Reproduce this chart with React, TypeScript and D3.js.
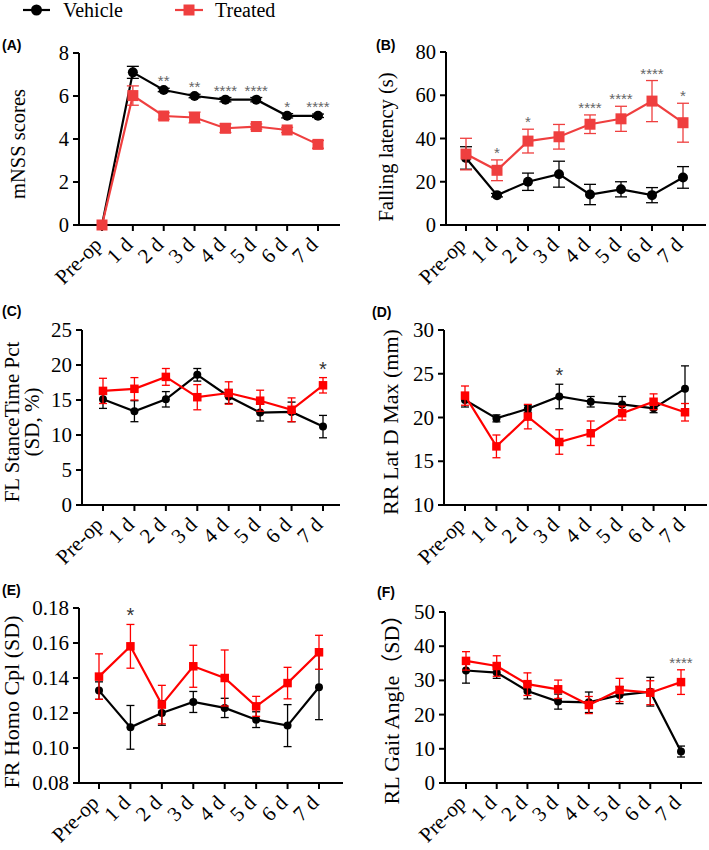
import React from 'react';
import * as d3 from 'd3';

const categories = ['Pre-op', '1 d', '2 d', '3 d', '4 d', '5 d', '6 d', '7 d'];

// (A) mNSS scores
const mnssVehicle = [0, 7.1, 6.28, 6.0, 5.83, 5.83, 5.08, 5.08];
const mnssVehicleErr = [0, 0.28, 0.08, 0.08, 0.1, 0.1, 0.1, 0.08];
const mnssTreated = [0, 6.02, 5.07, 5.0, 4.5, 4.58, 4.42, 3.75];
const mnssTreatedErr = [0, 0.45, 0.15, 0.25, 0.2, 0.12, 0.12, 0.18];
const mnssStars = ['', '', '**', '**', '****', '****', '*', '****'];

// (B) Falling latency
const latencyVehicle = [31, 13.8, 20, 23.5, 14.1, 16.5, 13.8, 22];
const latencyVehicleErr = [5.2, 0.8, 4, 6, 4.7, 3.5, 3.5, 5];
const latencyTreated = [32.8, 25.3, 38.8, 40.8, 46.6, 49.1, 57.3, 47.3];
const latencyTreatedErr = [7.3, 4.8, 5.5, 5.7, 4.3, 5.8, 9.5, 9];
const latencyStars = ['', '*', '*', '', '****', '****', '****', '*'];

// (C) FL StanceTime Pct
const stanceVehicle = [15.1, 13.4, 15.1, 18.6, 15.5, 13.2, 13.3, 11.2];
const stanceVehicleErr = [1.3, 1.5, 1.1, 0.9, 1.0, 1.2, 1.4, 1.6];
const stanceTreated = [16.3, 16.6, 18.3, 15.4, 16.0, 14.9, 13.6, 17.1];
const stanceTreatedErr = [1.8, 1.6, 1.2, 1.8, 1.6, 1.5, 1.7, 1.1];
const stanceStars = ['', '', '', '', '', '', '', '*'];

// (D) RR Lat D Max
const latDVehicle = [22.0, 19.9, 21.0, 22.4, 21.8, 21.5, 21.05, 23.3];
const latDVehicleErr = [0.8, 0.4, 0.4, 1.4, 0.6, 0.9, 0.5, 2.6];
const latDTreated = [22.5, 16.7, 20.1, 17.2, 18.2, 20.5, 21.8, 20.6];
const latDTreatedErr = [1.1, 1.3, 1.4, 1.4, 1.4, 0.8, 0.9, 1.0];
const latDStars = ['', '', '', '*', '', '', '', ''];

// (E) FR Homo Cpl
const homoVehicle = [0.1328, 0.1118, 0.12, 0.1263, 0.1229, 0.1162, 0.1128, 0.1347];
const homoVehicleErr = [0.005, 0.0125, 0.007, 0.006, 0.0055, 0.0045, 0.012, 0.0185];
const homoTreated = [0.1408, 0.1581, 0.1248, 0.1467, 0.14, 0.1238, 0.1371, 0.1547];
const homoTreatedErr = [0.013, 0.0125, 0.011, 0.012, 0.016, 0.0057, 0.009, 0.0097];
const homoStars = ['', '*', '', '', '', '', '', ''];

// (F) RL Gait Angle
const gaitVehicle = [32.9, 32.3, 26.9, 23.8, 23.6, 25.7, 26.7, 9.2];
const gaitVehicleErr = [3.7, 1.7, 2.3, 2.2, 3.0, 2.5, 4.2, 1.6];
const gaitTreated = [35.7, 34.2, 28.9, 27.4, 22.8, 27.2, 26.4, 29.5];
const gaitTreatedErr = [2.7, 3.0, 3.3, 2.7, 2.5, 3.4, 3.5, 3.6];
const gaitStars = ['', '', '', '', '', '', '', '****'];

const SERIF = '"Liberation Serif", "Times New Roman", serif';
const SANS = '"Liberation Sans", Arial, sans-serif';

interface PanelProps {
  tag: string;
  tagPos: [number, number];
  axisX: number;
  top: number;
  bottom: number;
  firstX: number;
  lastX: number;
  axisEnd: number;
  domain: [number, number];
  ticks: number[];
  tickFormat: (v: number) => string;
  label: string[];
  labelX: number[];
  labelY: number;
  labelSize: number;
  tickSize: number;
  vehicle: number[];
  vehicleErr: number[];
  treated: number[];
  treatedErr: number[];
  stars: string[];
  starSize: number;
  starColor: string;
  red: string;
  big: boolean;
}

const Panel: React.FC<PanelProps> = (p) => {
  const x = d3.scalePoint<string>().domain(categories).range([p.firstX, p.lastX]);
  const y = d3.scaleLinear().domain(p.domain).range([p.bottom, p.top]);
  const line = d3.line<number>().x((_, i) => x(categories[i])!).y(d => y(d));
  const r = p.big ? 5 : 4;
  const sq = p.big ? 11 : 8.5;
  const cap = p.big ? 6 : 4;

  const errBars = (vals: number[], errs: number[], color: string) =>
    vals.map((v, i) => {
      if (!errs[i]) return null;
      const cx = x(categories[i])!;
      const y1 = y(v + errs[i]);
      const y2 = y(v - errs[i]);
      return (
        <g key={i} stroke={color} strokeWidth={1.3}>
          <line x1={cx} x2={cx} y1={y1} y2={y2} />
          <line x1={cx - cap} x2={cx + cap} y1={y1} y2={y1} />
          <line x1={cx - cap} x2={cx + cap} y1={y2} y2={y2} />
        </g>
      );
    });

  return (
    <g>
      <text x={p.tagPos[0]} y={p.tagPos[1]} fontFamily={SANS} fontWeight="bold" fontSize={14} fill="#000">{p.tag}</text>

      {/* y axis */}
      <line x1={p.axisX} x2={p.axisX} y1={p.top} y2={p.bottom} stroke="#000" strokeWidth={2} />
      {p.ticks.map(t => (
        <g key={t}>
          <line x1={p.axisX - 6} x2={p.axisX} y1={y(t)} y2={y(t)} stroke="#000" strokeWidth={2} />
          <text x={p.axisX - 10} y={y(t)} textAnchor="end" dominantBaseline="central" fontFamily={SERIF} fontSize={p.tickSize} fill="#000">
            {p.tickFormat(t)}
          </text>
        </g>
      ))}

      {/* x axis */}
      <line x1={p.axisX - 1} x2={p.axisEnd} y1={p.bottom} y2={p.bottom} stroke="#000" strokeWidth={2} />
      {categories.map(c => (
        <g key={c}>
          <line x1={x(c)!} x2={x(c)!} y1={p.bottom} y2={p.bottom + 6} stroke="#000" strokeWidth={2} />
          <text transform={`translate(${x(c)! + 1},${p.bottom + 21}) rotate(-45)`} textAnchor="end" fontFamily={SERIF} fontSize={21} fill="#000">
            {c}
          </text>
        </g>
      ))}

      {/* y label */}
      {p.label.map((l, i) => (
        <text key={i} transform={`translate(${p.labelX[i]},${p.labelY}) rotate(-90)`} textAnchor="middle" fontFamily={`${SERIF}, "Noto Sans CJK SC"`} fontSize={p.labelSize} fill="#000">
          {l}
        </text>
      ))}

      {/* vehicle */}
      {errBars(p.vehicle, p.vehicleErr, '#000')}
      <path d={line(p.vehicle) || ''} fill="none" stroke="#000" strokeWidth={2.2} />
      {p.vehicle.map((v, i) => (
        <circle key={i} cx={x(categories[i])!} cy={y(v)} r={r} fill="#000" />
      ))}

      {/* treated */}
      {errBars(p.treated, p.treatedErr, p.red)}
      <path d={line(p.treated) || ''} fill="none" stroke={p.red} strokeWidth={2.2} />
      {p.treated.map((v, i) => (
        <rect key={i} x={x(categories[i])! - sq / 2} y={y(v) - sq / 2} width={sq} height={sq} fill={p.red} />
      ))}

      {/* significance */}
      {p.stars.map((s, i) => {
        if (!s) return null;
        const top = Math.max(p.vehicle[i] + p.vehicleErr[i], p.treated[i] + p.treatedErr[i]);
        return (
          <text key={i} x={x(categories[i])!} y={y(top) - 2} textAnchor="middle" fontFamily={SANS} fontSize={p.starSize} fill={p.starColor}>
            {s}
          </text>
        );
      })}
    </g>
  );
};

const fmtInt = (v: number) => d3.format('d')(v);
const fmt2 = (v: number) => d3.format('.2f')(v);

export default function App() {
  const redA = '#ef3f3f';
  const redC = '#ff0000';
  return (
    <svg width={709} height={850} style={{ position: 'absolute', left: 0, top: 0, background: '#fff' }}>
      <rect width={709} height={850} fill="#fff" />

      {/* legend */}
      <g>
        <line x1={23} x2={50} y1={10} y2={10} stroke="#000" strokeWidth={2.2} />
        <circle cx={36.5} cy={10} r={5.5} fill="#000" />
        <text x={63} y={17} fontFamily={SERIF} fontSize={20} fill="#000">Vehicle</text>
        <line x1={175} x2={203} y1={10} y2={10} stroke={redA} strokeWidth={2.2} />
        <rect x={183.5} y={4.5} width={11} height={11} fill={redA} />
        <text x={215} y={17} fontFamily={SERIF} fontSize={20} fill="#000">Treated</text>
      </g>

      <Panel tag="(A)" tagPos={[2, 50]} axisX={79} top={53} bottom={225} firstX={102} lastX={318} axisEnd={340}
        domain={[0, 8]} ticks={[0, 2, 4, 6, 8]} tickFormat={fmtInt}
        label={['mNSS scores']} labelX={[25]} labelY={144} labelSize={20.5} tickSize={20.5}
        vehicle={mnssVehicle} vehicleErr={mnssVehicleErr} treated={mnssTreated} treatedErr={mnssTreatedErr}
        stars={mnssStars} starSize={15} starColor="#666" red={redA} big />

      <Panel tag="(B)" tagPos={[376, 50]} axisX={446} top={52} bottom={225} firstX={466} lastX={683} axisEnd={706}
        domain={[0, 80]} ticks={[0, 20, 40, 60, 80]} tickFormat={fmtInt}
        label={['Falling latency (s)']} labelX={[393]} labelY={147} labelSize={20.5} tickSize={20.5}
        vehicle={latencyVehicle} vehicleErr={latencyVehicleErr} treated={latencyTreated} treatedErr={latencyTreatedErr}
        stars={latencyStars} starSize={15} starColor="#666" red={redA} big />

      <Panel tag="(C)" tagPos={[2, 316]} axisX={82} top={330} bottom={505} firstX={103} lastX={323} axisEnd={340}
        domain={[0, 25]} ticks={[0, 5, 10, 15, 20, 25]} tickFormat={fmtInt}
        label={['FL StanceTime Pct', '(SD, %)']} labelX={[19, 39]} labelY={422} labelSize={21} tickSize={21}
        vehicle={stanceVehicle} vehicleErr={stanceVehicleErr} treated={stanceTreated} treatedErr={stanceTreatedErr}
        stars={stanceStars} starSize={20} starColor="#333" red={redC} big={false} />

      <Panel tag="(D)" tagPos={[372, 317]} axisX={444} top={330} bottom={505} firstX={465} lastX={685} axisEnd={707}
        domain={[10, 30]} ticks={[10, 15, 20, 25, 30]} tickFormat={fmtInt}
        label={['RR Lat D Max (mm)']} labelX={[398]} labelY={422} labelSize={22} tickSize={21}
        vehicle={latDVehicle} vehicleErr={latDVehicleErr} treated={latDTreated} treatedErr={latDTreatedErr}
        stars={latDStars} starSize={20} starColor="#333" red={redC} big={false} />

      <Panel tag="(E)" tagPos={[2, 595]} axisX={79} top={608} bottom={783} firstX={99} lastX={319} axisEnd={343}
        domain={[0.08, 0.18]} ticks={[0.08, 0.1, 0.12, 0.14, 0.16, 0.18]} tickFormat={fmt2}
        label={['FR Homo Cpl (SD)']} labelX={[19]} labelY={702} labelSize={22} tickSize={21}
        vehicle={homoVehicle} vehicleErr={homoVehicleErr} treated={homoTreated} treatedErr={homoTreatedErr}
        stars={homoStars} starSize={20} starColor="#333" red={redC} big={false} />

      <Panel tag="(F)" tagPos={[377, 597]} axisX={445} top={612} bottom={783} firstX={466} lastX={681} axisEnd={702}
        domain={[0, 50]} ticks={[0, 10, 20, 30, 40, 50]} tickFormat={fmtInt}
        label={['RL Gait Angle（SD）']} labelX={[399]} labelY={704} labelSize={22} tickSize={21}
        vehicle={gaitVehicle} vehicleErr={gaitVehicleErr} treated={gaitTreated} treatedErr={gaitTreatedErr}
        stars={gaitStars} starSize={15} starColor="#666" red={redC} big={false} />
    </svg>
  );
}
